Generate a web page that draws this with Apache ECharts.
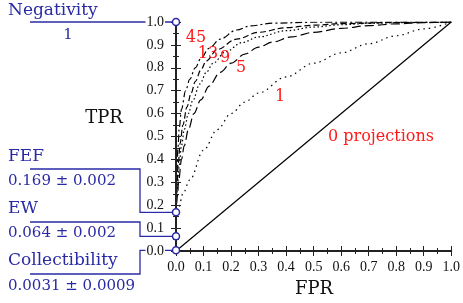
<!DOCTYPE html>
<html><head><meta charset="utf-8">
<script src="https://cdn.jsdelivr.net/npm/echarts@6/dist/echarts.min.js"></script>
<style>html,body{margin:0;padding:0;background:#fff}#c{width:463px;height:303px}</style>
</head><body><div id="c"></div>
<script>
// ---- data ----
const fpr0 = [0, 1];
const tpr0 = [0, 1];
const fpr1 = [0, 0.01, 0.025, 0.05, 0.1, 0.15, 0.2, 0.25, 0.3, 0.4, 0.5, 0.6, 0.7, 0.8, 0.9, 1.0];
const tpr1 = [0.15, 0.19, 0.25, 0.31, 0.44, 0.53, 0.60, 0.65, 0.69, 0.76, 0.82, 0.865, 0.905, 0.94, 0.97, 1.0];
const fpr5 = [0, 0.005, 0.01, 0.02, 0.03, 0.045, 0.065, 0.09, 0.12, 0.16, 0.2, 0.25, 0.3, 0.35, 0.42, 0.5, 0.6, 0.7, 0.8, 0.9, 1];
const tpr5 = [0.15, 0.24, 0.31, 0.40, 0.46, 0.53, 0.60, 0.66, 0.72, 0.78, 0.82, 0.86, 0.89, 0.912, 0.935, 0.955, 0.972, 0.984, 0.992, 0.997, 1];
const fpr9 = [0, 0.005, 0.01, 0.02, 0.03, 0.045, 0.06, 0.087, 0.11, 0.135, 0.18, 0.24, 0.3, 0.4, 0.5, 0.6, 0.7, 0.8, 1];
const tpr9 = [0.15, 0.27, 0.36, 0.46, 0.53, 0.60, 0.655, 0.73, 0.78, 0.82, 0.87, 0.91, 0.935, 0.962, 0.978, 0.988, 0.994, 0.997, 1];
const fpr13 = [0, 0.004, 0.008, 0.015, 0.025, 0.04, 0.055, 0.07, 0.09, 0.11, 0.15, 0.22, 0.3, 0.4, 0.5, 0.6, 0.8, 1];
const tpr13 = [0.15, 0.29, 0.38, 0.47, 0.55, 0.63, 0.69, 0.74, 0.79, 0.83, 0.88, 0.925, 0.955, 0.975, 0.986, 0.993, 0.998, 1];
const fpr45 = [0, 0.003, 0.007, 0.012, 0.02, 0.035, 0.05, 0.07, 0.09, 0.12, 0.16, 0.22, 0.27, 0.35, 0.5, 1];
const tpr45 = [0.15, 0.33, 0.45, 0.54, 0.62, 0.70, 0.75, 0.80, 0.84, 0.885, 0.925, 0.965, 0.983, 0.995, 0.999, 1];
const curveLabels = ['0 projections', '1', '5', '9', '13', '45'];
const metricNames = ['Negativity', 'FEF', 'EW', 'Collectibility'];
const metricValues = [1, 0.169, 0.064, 0.0031];
const metricTexts = ['1', '0.169 ± 0.002', '0.064 ± 0.002', '0.0031 ± 0.0009'];

// ---- chart ----
const BLUE = '#2a2aa6';
const SERIF = 'DejaVu Serif';
const pairs = (xs, ys) => xs.map((x, i) => [x, ys[i]]);
const chart = echarts.init(document.getElementById('c'), null, {renderer: 'canvas'});

function lineSeries(name, xs, ys, dash) {
  return {
    name, type: 'line', data: pairs(xs, ys), showSymbol: false, symbol: 'none',
    smooth: 0.35, smoothMonotone: 'x', z: 2, animation: false,
    lineStyle: {color: '#000', width: 1.2, type: dash, cap: 'butt'}
  };
}
const baseAxis = {
  type: 'value', min: 0, max: 1, interval: 0.1,
  splitLine: {show: false},
  axisTick: {show: true, inside: true, length: 5, lineStyle: {color: '#222', width: 1}},
  minorTick: {show: true, splitNumber: 2, length: 3, lineStyle: {color: '#222', width: 1}},
  minorSplitLine: {show: false}
};
const option = {
  animation: false,
  backgroundColor: '#fff',
  grid: {left: 176, right: 11, top: 22, bottom: 52},
  xAxis: [
    Object.assign({}, baseAxis, {
      position: 'bottom', z: 3,
      axisLine: {show: true, lineStyle: {color: '#222', width: 2}},
      axisLabel: {formatter: v => v.toFixed(1), fontFamily: 'Liberation Serif', fontSize: 14, color: '#111', margin: 9}
    }),
    Object.assign({}, baseAxis, {
      position: 'top', z: 3,
      axisLine: {show: true, lineStyle: {color: '#222', width: 1.5}},
      axisLabel: {show: false}
    })
  ],
  yAxis: [
    Object.assign({}, baseAxis, {
      position: 'left', z: 3,
      axisLine: {show: true, lineStyle: {color: '#222', width: 2}},
      axisLabel: {formatter: v => v.toFixed(1), fontFamily: 'Liberation Serif', fontSize: 14, color: '#111', margin: 11,
        backgroundColor: '#fff', padding: [0, 1], lineHeight: 12}
    }),
    Object.assign({}, baseAxis, {
      position: 'right', z: 3,
      axisLine: {show: true, lineStyle: {color: '#222', width: 1.5}},
      axisLabel: {show: false}
    })
  ],
  series: [
    lineSeries(curveLabels[0], fpr0, tpr0, 'solid'),
    lineSeries(curveLabels[1], fpr1, tpr1, [1.5, 4]),
    lineSeries(curveLabels[2], fpr5, tpr5, [9, 4]),
    lineSeries(curveLabels[3], fpr9, tpr9, [1.5, 2.5]),
    lineSeries(curveLabels[4], fpr13, tpr13, [6, 3]),
    lineSeries(curveLabels[5], fpr45, tpr45, [7, 3, 2, 3]),
    {
      type: 'scatter', z: 10, clip: false, animation: false,
      data: metricValues.map(v => [0, v]),
      symbol: 'circle', symbolSize: 7,
      itemStyle: {color: '#fff', borderColor: BLUE, borderWidth: 1.5, opacity: 1}
    }
  ]
};
chart.setOption(option);

// annotations
const xM = chart.convertToPixel({xAxisIndex: 0, yAxisIndex: 0}, [0, 0])[0];
const yOf = v => chart.convertToPixel({xAxisIndex: 0, yAxisIndex: 0}, [0, v])[1];
const ys = metricValues.map(yOf);
const lineStyle = {stroke: BLUE, lineWidth: 1.3, fill: null};
const elbow = [null, 169, 222, 274];
const graphics = [];
graphics.push({type: 'polyline', z: 1, shape: {points: [[30, ys[0]], [xM, ys[0]]]}, style: lineStyle});
for (let i = 1; i < 4; i++) {
  graphics.push({type: 'polyline', z: 1, shape: {points: [[30, elbow[i]], [140, elbow[i]], [140, ys[i]], [xM, ys[i]]]}, style: lineStyle});
}
const txt = (t, x, y, size, color, align) => ({
  type: 'text', z: 5, x, y,
  style: {text: t, fontFamily: SERIF, fontSize: size, fill: color, align: align || 'left', verticalAlign: 'middle'}
});
graphics.push(txt(metricNames[0], 8, 11, 17, BLUE));
graphics.push(txt(metricTexts[0], 68, 35, 15, BLUE, 'center'));
graphics.push(txt(metricNames[1], 8, 157, 17, BLUE));
graphics.push(txt(metricTexts[1], 8, 181, 15, BLUE));
graphics.push(txt(metricNames[2], 8, 209, 17, BLUE));
graphics.push(txt(metricTexts[2], 8, 233, 15, BLUE));
graphics.push(txt(metricNames[3], 8, 261, 17, BLUE));
graphics.push(txt(metricTexts[3], 8, 286, 15, BLUE));
const RED = '#ff1a1a';
graphics.push(txt(curveLabels[5], 196, 38, 16, RED, 'center'));
graphics.push(txt(curveLabels[4], 208, 54, 16, RED, 'center'));
graphics.push(txt(curveLabels[3], 225, 58, 16, RED, 'center'));
graphics.push(txt(curveLabels[2], 241, 68, 16, RED, 'center'));
graphics.push(txt(curveLabels[1], 280, 97, 16, RED, 'center'));
graphics.push(txt(curveLabels[0], 381, 137, 16, RED, 'center'));
graphics.push(txt('TPR', 104, 118, 18, '#111', 'center'));
graphics.push(txt('FPR', 314, 289, 18, '#111', 'center'));
chart.setOption({graphic: graphics});
</script></body></html>
